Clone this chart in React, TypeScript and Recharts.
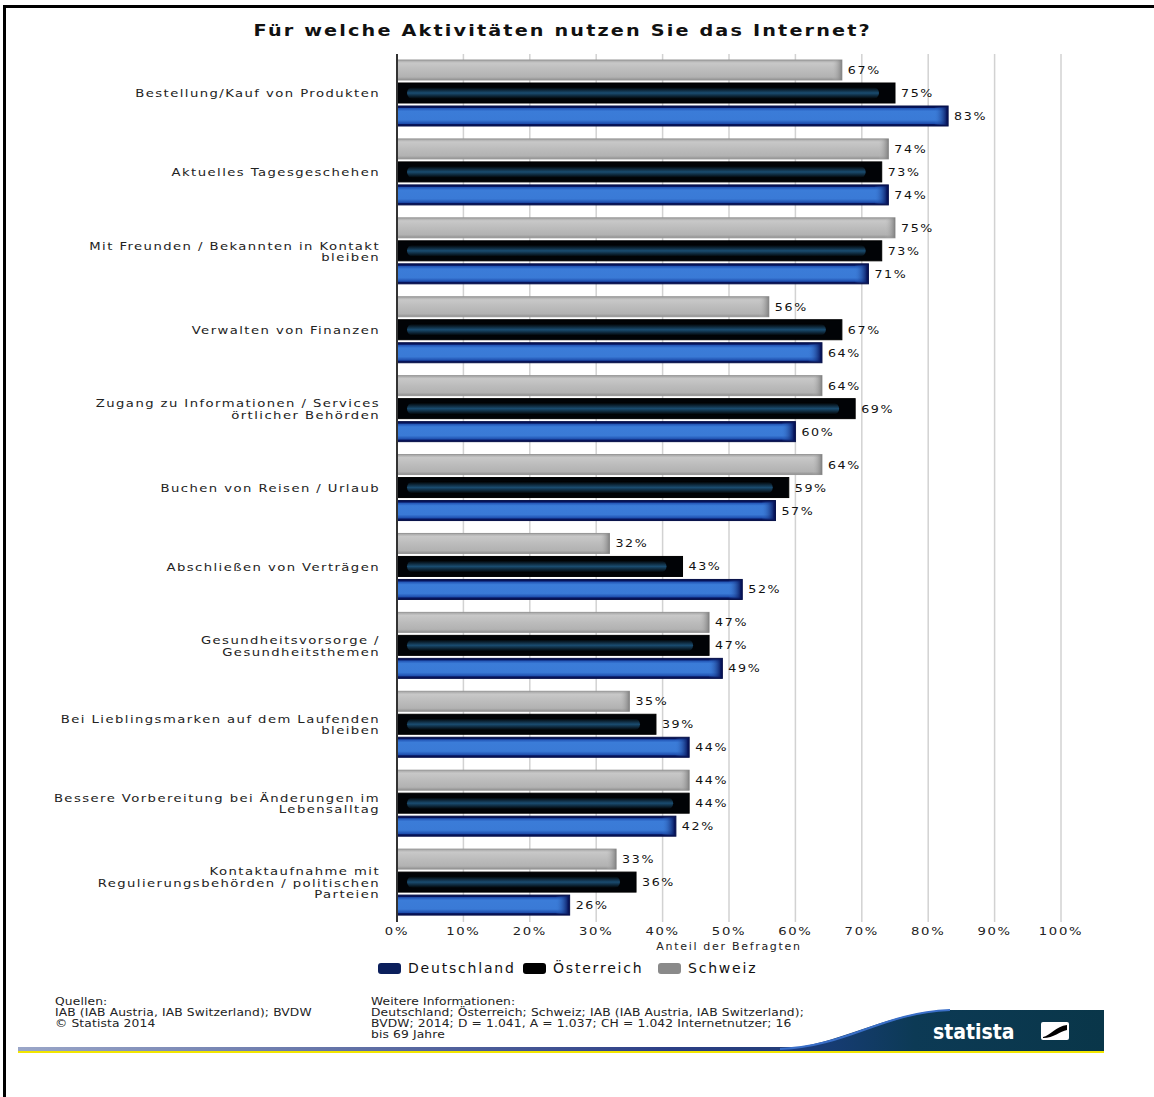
import React from "react";
import {
  BarChart,
  Bar,
  XAxis,
  YAxis,
  CartesianGrid,
  LabelList,
} from "recharts";

const categories = [
  "Bestellung/Kauf von Produkten",
  "Aktuelles Tagesgeschehen",
  "Mit Freunden / Bekannten in Kontakt\nbleiben",
  "Verwalten von Finanzen",
  "Zugang zu Informationen / Services\nörtlicher Behörden",
  "Buchen von Reisen / Urlaub",
  "Abschließen von Verträgen",
  "Gesundheitsvorsorge /\nGesundheitsthemen",
  "Bei Lieblingsmarken auf dem Laufenden\nbleiben",
  "Bessere Vorbereitung bei Änderungen im\nLebensalltag",
  "Kontaktaufnahme mit\nRegulierungsbehörden / politischen\nParteien",
];
const schweiz = [67, 74, 75, 56, 64, 64, 32, 47, 35, 44, 33];
const oesterreich = [75, 73, 73, 67, 69, 59, 43, 47, 39, 44, 36];
const deutschland = [83, 74, 71, 64, 60, 57, 52, 49, 44, 42, 26];
const xTicks = [0, 10, 20, 30, 40, 50, 60, 70, 80, 90, 100];

const legendItems = [
  { name: "Deutschland", color: "#0b1f5c", left: 378 },
  { name: "Österreich", color: "#000000", left: 523 },
  { name: "Schweiz", color: "#8a8a8a", left: 658 },
];

const data = categories.map((c, i) => ({
  name: c,
  schweiz: schweiz[i],
  oesterreich: oesterreich[i],
  deutschland: deutschland[i],
}));

const FONT = "'DejaVu Sans', Verdana, sans-serif";

// stretch text horizontally around a fixed x (the source image is widened)
const stretch = (x: number, k: number) => `matrix(${k},0,0,1,${x - k * x},0)`;

const GrayBar = (p: any) => {
  const { x, y, width, height } = p;
  if (!width || width <= 0) return null;
  return (
    <g>
      <rect x={x} y={y} width={width} height={height} fill="url(#gGray)" stroke="#969696" strokeWidth={1} />
      <rect x={x + Math.max(0, width - 10)} y={y} width={Math.min(10, width)} height={height} fill="url(#gGrayEnd)" />
    </g>
  );
};

const BlackBar = (p: any) => {
  const { x, y, width, height } = p;
  if (!width || width <= 0) return null;
  return (
    <g>
      <rect x={x} y={y} width={width} height={height} fill="#010306" stroke="#000" strokeWidth={1} />
      <rect x={x + 10} y={y + height / 2 - 6} width={Math.max(0, width - 26)} height={12} rx={6} fill="url(#gStripe)" />
    </g>
  );
};

const BlueBar = (p: any) => {
  const { x, y, width, height } = p;
  if (!width || width <= 0) return null;
  return (
    <g>
      <rect x={x} y={y} width={width} height={height} fill="#07145a" stroke="#061048" strokeWidth={1} />
      <rect x={x + 1} y={y + 2} width={Math.max(0, width - 3)} height={height - 4} fill="url(#gBlue)" />
      <rect x={x + Math.max(0, width - 14)} y={y + 1} width={Math.min(13, width)} height={height - 2} fill="url(#gBlueEnd)" />
    </g>
  );
};

const ValueLabel = (p: any) => {
  const { x, y, width, height, value } = p;
  const tx = x + width + 6;
  return (
    <text
      x={tx}
      y={y + height / 2 + 4}
      transform={stretch(tx, 1.15)}
      fontSize={11}
      fontFamily={FONT}
      letterSpacing={1.4}
      fill="#111"
    >
      {value}%
    </text>
  );
};

const CategoryTick = (p: any) => {
  const { x, y, payload } = p;
  const lines = String(payload.value).split("\n");
  const lh = 11.5;
  const start = -((lines.length - 1) * lh) / 2;
  return (
    <text
      x={x}
      y={y}
      transform={stretch(x, 1.2)}
      textAnchor="end"
      fontSize={11}
      fontFamily={FONT}
      letterSpacing={1.2}
      fill="#222"
    >
      {lines.map((l, i) => (
        <tspan key={i} x={x} y={y + start + i * lh + 4}>
          {l}
        </tspan>
      ))}
    </text>
  );
};

const PercentTick = (p: any) => {
  const { x, y, payload } = p;
  return (
    <text
      x={x}
      y={y + 11}
      transform={stretch(x, 1.2)}
      textAnchor="middle"
      fontSize={11}
      fontFamily={FONT}
      letterSpacing={1.4}
      fill="#222"
    >
      {payload.value}%
    </text>
  );
};

function Footer() {
  const small: React.CSSProperties = {
    position: "absolute",
    fontFamily: "'DejaVu Sans Condensed', 'DejaVu Sans', sans-serif",
    fontSize: 10.5,
    lineHeight: "11px",
    color: "#222",
    letterSpacing: 0.1,
    whiteSpace: "pre",
    transform: "scaleX(1.3)",
    transformOrigin: "left top",
  };
  return (
    <>
      <div style={{ ...small, left: 55, top: 996 }}>
        {"Quellen:\nIAB (IAB Austria, IAB Switzerland); BVDW\n© Statista 2014"}
      </div>
      <div style={{ ...small, left: 371, top: 996 }}>
        {"Weitere Informationen:\nDeutschland; Österreich; Schweiz; IAB (IAB Austria, IAB Switzerland);\nBVDW; 2014; D = 1.041, A = 1.037; CH = 1.042 Internetnutzer; 16\nbis 69 Jahre"}
      </div>
      <svg width={1154} height={1097} style={{ position: "absolute", left: 0, top: 0, pointerEvents: "none" }}>
        <defs>
          <linearGradient id="gBand" x1="0" y1="0" x2="1" y2="0">
            <stop offset="0" stopColor="#9aa6c8" />
            <stop offset="0.6" stopColor="#2c3f86" />
            <stop offset="1" stopColor="#0b3a52" />
          </linearGradient>
          <linearGradient id="gSwoosh" x1="0" y1="0" x2="1" y2="0">
            <stop offset="0" stopColor="#1f3d8c" />
            <stop offset="0.45" stopColor="#0c3a55" />
            <stop offset="1" stopColor="#093649" />
          </linearGradient>
        </defs>
        <rect x={18} y={1047} width={1086} height={4} fill="url(#gBand)" />
        <path
          d="M 760 1051 C 840 1049, 880 1012, 950 1010 L 1104 1010 L 1104 1051 Z"
          fill="url(#gSwoosh)"
        />
        <path
          d="M 780 1049 C 850 1046, 880 1013, 950 1010"
          fill="none"
          stroke="#3a6fc8"
          strokeWidth={2}
        />
        <rect x={18} y={1051} width={1086} height={2} fill="#f2e600" />
        <text x={933} y={1039} fontFamily="'DejaVu Sans Condensed', 'DejaVu Sans', sans-serif" fontWeight="bold" fontSize={21} fill="#ffffff">
          statista
        </text>
        <rect x={1041} y={1022} width={28} height={18} rx={2} fill="#ffffff" />
        <path d="M 1043 1037 C 1050 1036, 1056 1026, 1067 1025 L 1067 1030 C 1060 1031, 1054 1038, 1043 1038 Z" fill="#000" />
      </svg>
    </>
  );
}

export default function App() {
  return (
    <div
      style={{
        position: "absolute",
        left: 0,
        top: 0,
        width: 1154,
        height: 1097,
        background: "#fff",
        overflow: "hidden",
      }}
    >
      <div style={{ position: "absolute", left: 3, top: 5, width: 1151, height: 1092, borderLeft: "3px solid #000", borderTop: "3px solid #000" }} />
      <div
        style={{
          position: "absolute",
          left: 305,
          width: 514,
          top: 21,
          textAlign: "center",
          fontFamily: FONT,
          fontWeight: "bold",
          fontSize: 16,
          letterSpacing: 1.8,
          color: "#111",
          whiteSpace: "nowrap",
          transform: "scaleX(1.2)",
          transformOrigin: "center top",
        }}
      >
        Für welche Aktivitäten nutzen Sie das Internet?
      </div>
      <div style={{ position: "absolute", left: 0, top: 0 }}>
        <BarChart
          width={1154}
          height={1000}
          data={data}
          layout="vertical"
          margin={{ top: 54, right: 93, bottom: 0, left: 0 }}
          barSize={20}
          barGap={3}
        >
          <defs>
            <linearGradient id="gGray" x1="0" y1="0" x2="0" y2="1">
              <stop offset="0" stopColor="#a4a4a4" />
              <stop offset="0.15" stopColor="#c8c8c8" />
              <stop offset="0.5" stopColor="#bcbcbc" />
              <stop offset="0.85" stopColor="#b2b2b2" />
              <stop offset="1" stopColor="#909090" />
            </linearGradient>
            <linearGradient id="gGrayEnd" x1="0" y1="0" x2="1" y2="0">
              <stop offset="0" stopColor="#bdbdbd" stopOpacity={0} />
              <stop offset="1" stopColor="#7c7c7c" stopOpacity={0.9} />
            </linearGradient>
            <linearGradient id="gStripe" x1="0" y1="0" x2="0" y2="1">
              <stop offset="0" stopColor="#000" />
              <stop offset="0.5" stopColor="#1a4c70" />
              <stop offset="1" stopColor="#000" />
            </linearGradient>
            <linearGradient id="gBlue" x1="0" y1="0" x2="0" y2="1">
              <stop offset="0" stopColor="#1e4fb0" />
              <stop offset="0.2" stopColor="#3b7cd8" />
              <stop offset="0.75" stopColor="#3a7ad6" />
              <stop offset="1" stopColor="#1a48a8" />
            </linearGradient>
            <linearGradient id="gBlueEnd" x1="0" y1="0" x2="1" y2="0">
              <stop offset="0" stopColor="#3a7ad6" stopOpacity={0} />
              <stop offset="1" stopColor="#07145a" stopOpacity={1} />
            </linearGradient>
          </defs>
          <CartesianGrid vertical horizontal={false} stroke="#d2d2d2" strokeWidth={1.5} />
          <XAxis
            type="number"
            domain={[0, 100]}
            ticks={xTicks}
            axisLine={false}
            tickLine={false}
            tickSize={0}
            tickMargin={2}
            height={78}
            tick={<PercentTick />}
            interval={0}
            label={{
              value: "Anteil der Befragten",
              position: "insideTop",
              offset: 20,
              fontSize: 11,
              fontFamily: FONT,
              fill: "#222",
              letterSpacing: 1.7,
            }}
          />
          <YAxis
            type="category"
            dataKey="name"
            width={397}
            axisLine={{ stroke: "#333", strokeWidth: 2 }}
            tickLine={false}
            tickSize={0}
            tickMargin={17}
            interval={0}
            tick={<CategoryTick />}
          />
          <Bar dataKey="schweiz" name="Schweiz" shape={<GrayBar />} isAnimationActive={false}>
            <LabelList dataKey="schweiz" content={<ValueLabel />} />
          </Bar>
          <Bar dataKey="oesterreich" name="Österreich" shape={<BlackBar />} isAnimationActive={false}>
            <LabelList dataKey="oesterreich" content={<ValueLabel />} />
          </Bar>
          <Bar dataKey="deutschland" name="Deutschland" shape={<BlueBar />} isAnimationActive={false}>
            <LabelList dataKey="deutschland" content={<ValueLabel />} />
          </Bar>
        </BarChart>
      </div>
      {legendItems.map((it) => (
        <div
          key={it.name}
          style={{
            position: "absolute",
            left: it.left,
            top: 960,
            display: "flex",
            alignItems: "center",
            fontFamily: FONT,
            fontSize: 14,
            letterSpacing: 1.8,
            color: "#111",
            whiteSpace: "nowrap",
          }}
        >
          <span
            style={{
              display: "inline-block",
              width: 23,
              height: 11,
              borderRadius: 3,
              background: it.color,
              marginRight: 7,
            }}
          />
          {it.name}
        </div>
      ))}
      <Footer />
    </div>
  );
}
